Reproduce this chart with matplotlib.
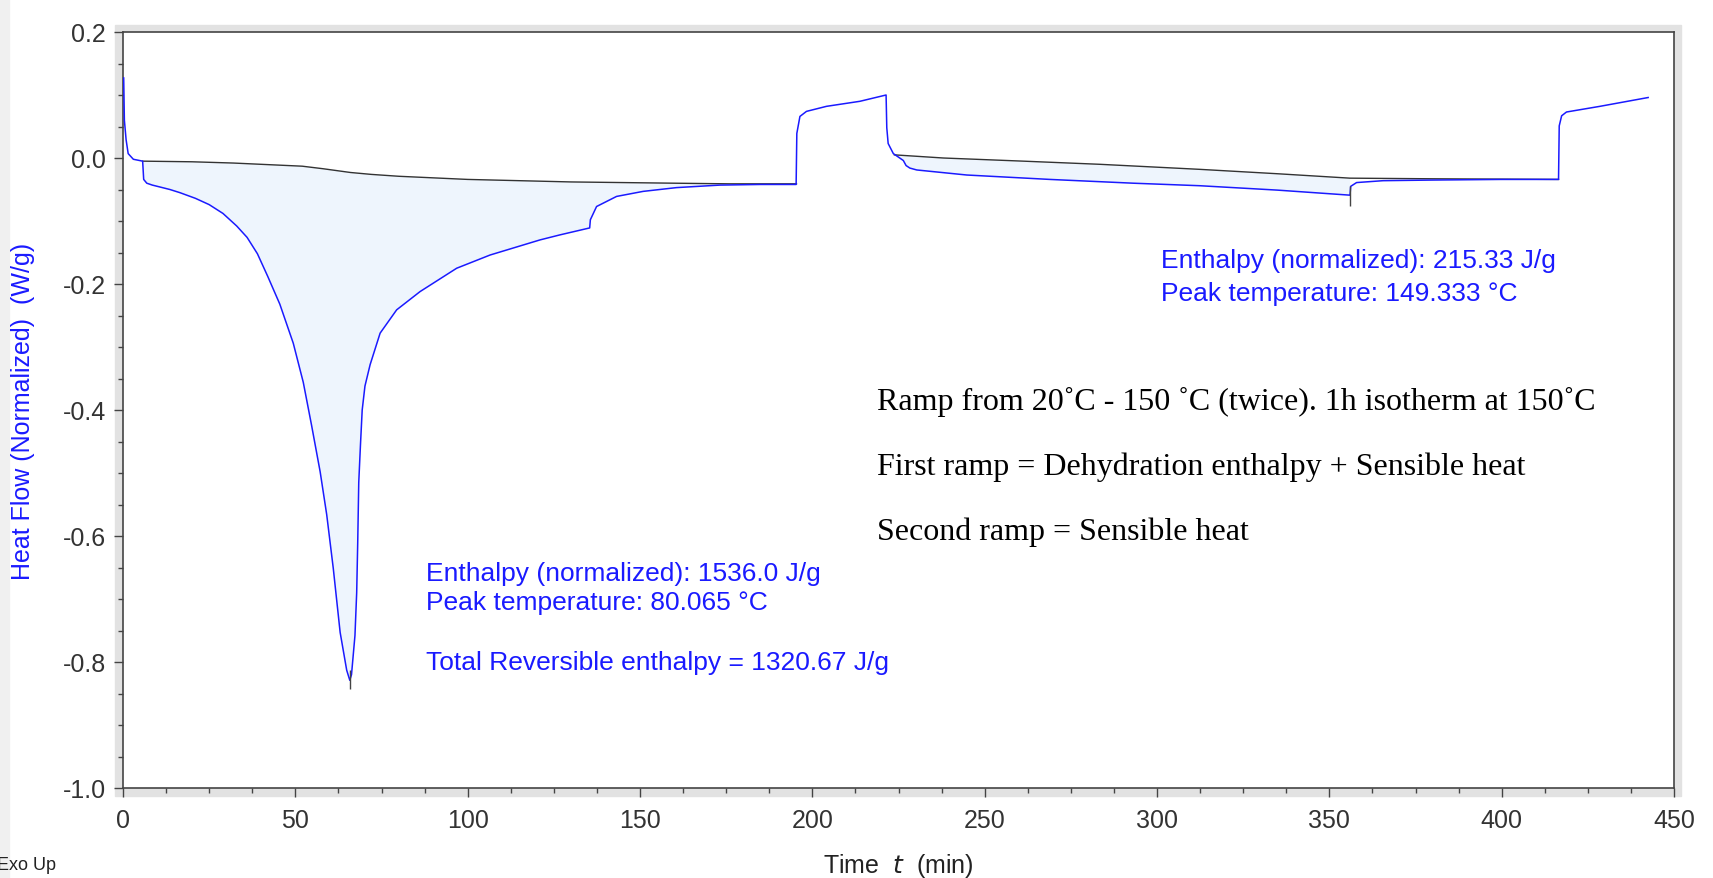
import numpy as np
import matplotlib
matplotlib.use("Agg")
import matplotlib.pyplot as plt
from matplotlib.patches import Rectangle
from matplotlib.ticker import MultipleLocator, FormatStrFormatter

plt.rcParams["axes.unicode_minus"] = False
plt.rcParams["font.family"] = ["Liberation Sans", "DejaVu Sans"]

# measured heat flow (W/g) vs time (min)
time_min = [0.2, 0.4, 0.9, 1.5, 3.0, 5.7, 6.0, 6.9, 8.5, 10.7, 13.6, 16.5, 21.0,
            25.0, 29.0, 33.0, 36.0, 39.0, 42.0, 45.5, 49.4, 52.3, 54.7,
            57.2, 59.1, 61.0, 63.0, 64.9, 65.8, 66.3, 67.3, 67.8, 68.1, 68.4,
            68.9, 69.4, 70.2, 71.7, 74.6, 79.4, 86.2, 96.8, 106.5, 121.0, 126.8,
            135.4, 135.6, 137.4, 143.2, 150.9, 160.6, 173.2, 185.0, 195.3, 195.5,
            196.4, 198.3, 204.1, 213.8, 221.4, 221.6, 222.0, 223.5, 224.3, 226.4,
            227.2, 228.3, 230.3, 244.8, 268.9, 293.1, 312.4, 335.0, 356.0, 356.2,
            357.9, 365.6, 380.0, 400.0, 416.5, 416.7, 417.4, 418.8, 428.5, 442.5]
heat_flow = [0.127, 0.060, 0.029, 0.007, -0.002, -0.005, -0.034, -0.040, -0.043,
             -0.046, -0.050, -0.055, -0.064, -0.074, -0.088, -0.108, -0.126,
             -0.152, -0.188, -0.232, -0.294, -0.356, -0.424, -0.498,
             -0.566, -0.651, -0.753, -0.813, -0.829, -0.820, -0.758, -0.690,
             -0.611, -0.515, -0.455, -0.400, -0.362, -0.328, -0.278, -0.241,
             -0.212, -0.175, -0.154, -0.130, -0.122, -0.111, -0.098, -0.077,
             -0.061, -0.053, -0.047, -0.043, -0.042, -0.042, 0.039, 0.066, 0.074,
             0.082, 0.090, 0.100, 0.048, 0.023, 0.007, 0.004, -0.004, -0.012,
             -0.016, -0.019, -0.027, -0.034, -0.040, -0.044, -0.051, -0.059,
             -0.045, -0.039, -0.036, -0.035, -0.034, -0.034, 0.051, 0.067, 0.073,
             0.082, 0.096]

# integration baselines
base1_t = [5.7, 20, 32, 44, 52, 58, 66, 72, 80, 100, 130, 160, 176, 195.4]
base1_y = [-0.005, -0.006, -0.008, -0.011, -0.013, -0.017, -0.023, -0.026,
           -0.029, -0.034, -0.038, -0.040, -0.041, -0.041]
base2_t = [223.8, 238, 261.2, 283.4, 312.4, 335, 356, 380, 416.5]
base2_y = [0.005, 0.0, -0.005, -0.010, -0.018, -0.025, -0.032, -0.033, -0.034]

peak_t = [65.8, 356.0]
peak_lo = [-0.843, -0.076]
peak_hi = [-0.812, -0.045]

W, H = 1713, 879
fig = plt.figure(figsize=(W / 100, H / 100), dpi=100)

# screenshot-style frame behind the axes
fig.patches.append(Rectangle((0, 0), 9 / W, 1, transform=fig.transFigure,
                             color="#f0f0f0", zorder=-5))
fig.patches.append(Rectangle((115 / W, 1 - 797 / H), (1681 - 115) / W, (797 - 26) / H,
                             transform=fig.transFigure, color="#e2e2e2", zorder=-5))

ax = fig.add_axes([123 / W, 1 - 789 / H, (1674 - 123) / W, (789 - 33) / H])
ax.set_facecolor("white")

t = np.array(time_min)
hf = np.array(heat_flow)

# shaded enthalpy areas
for (a, b, bt, by) in [(5.7, 176.0, base1_t, base1_y), (223.8, 356.0, base2_t, base2_y)]:
    m = (t >= a) & (t <= b)
    bt = np.array(bt)
    by = np.array(by)
    mb = bt <= b
    xs = np.concatenate([t[m], bt[mb][::-1]])
    ys = np.concatenate([hf[m], by[mb][::-1]])
    ax.fill(xs, ys, color="#eef5fd", lw=0, zorder=1)

ax.plot(base1_t, base1_y, color="#333333", lw=1.0, zorder=2)
ax.plot(base2_t, base2_y, color="#333333", lw=1.0, zorder=2)
ax.plot(t, hf, color="#1a1aff", lw=1.1, zorder=3)
ax.vlines(peak_t, peak_lo, peak_hi, color="#444444", lw=1.0, zorder=4)

ax.set_xlim(0, 450)
ax.set_ylim(-1.0, 0.2)
ax.xaxis.set_major_locator(MultipleLocator(50))
ax.xaxis.set_minor_locator(MultipleLocator(12.5))
ax.yaxis.set_major_locator(MultipleLocator(0.2))
ax.yaxis.set_minor_locator(MultipleLocator(0.05))
ax.yaxis.set_major_formatter(FormatStrFormatter("%.1f"))
ax.tick_params(which="major", length=6.5, width=1, color="#444444",
               labelsize=18, labelcolor="#333333")
ax.tick_params(which="minor", length=3.8, width=1, color="#444444")
ax.tick_params(axis="y", which="major", pad=6)
ax.tick_params(axis="x", which="major", pad=8)
for s in ax.spines.values():
    s.set_color("#444444")
    s.set_linewidth(1.2)

ax.set_ylabel("Heat Flow (Normalized)  (W/g)", color="#1a1aff", fontsize=18)
ax.yaxis.set_label_coords(-0.0645, 0.5)
ax.yaxis.label.set_va("center")
ax.set_xlabel("Time  $t$  (min)", color="#222222", fontsize=18)
ax.xaxis.set_label_coords(0.5, -0.102)
ax.xaxis.label.set_va("center")

blue = "#1a1aff"
fs = 19
ax.text(87.9, -0.659, "Enthalpy (normalized): 1536.0 J/g", color=blue, fontsize=fs, va="center")
ax.text(87.9, -0.705, "Peak temperature: 80.065 °C", color=blue, fontsize=fs, va="center")
ax.text(87.9, -0.800, "Total Reversible enthalpy = 1320.67 J/g", color=blue, fontsize=fs, va="center")
ax.text(301.2, -0.162, "Enthalpy (normalized): 215.33 J/g", color=blue, fontsize=fs, va="center")
ax.text(301.2, -0.214, "Peak temperature: 149.333 °C", color=blue, fontsize=fs, va="center")

serif = ["Liberation Serif", "DejaVu Serif"]
ax.text(218.8, -0.385, "Ramp from 20˚C - 150 ˚C (twice). 1h isotherm at 150˚C",
        fontsize=23, family=serif, va="center", color="black")
ax.text(218.8, -0.489, "First ramp = Dehydration enthalpy + Sensible heat",
        fontsize=23, family=serif, va="center", color="black")
ax.text(218.8, -0.593, "Second ramp = Sensible heat",
        fontsize=23, family=serif, va="center", color="black")

fig.text(-0.002, 1 - 866 / H, "Exo Up", fontsize=13, color="#222222", va="center", ha="left")

fig.savefig("out.png", dpi=100)
